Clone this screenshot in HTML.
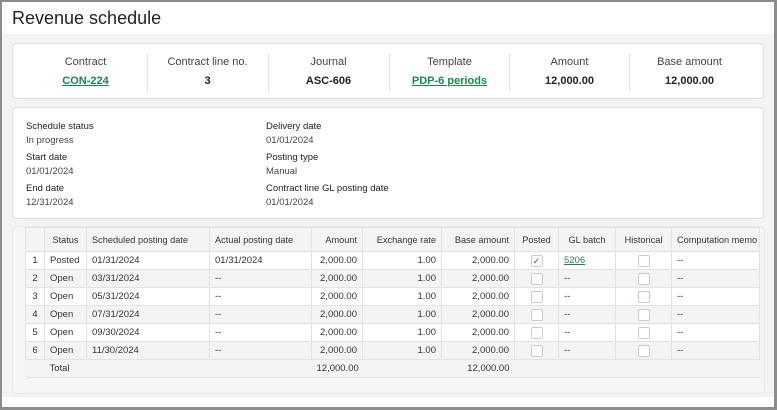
<!DOCTYPE html>
<html><head><style>
*{margin:0;padding:0;box-sizing:border-box}
body{width:777px;height:410px;overflow:hidden;font-family:"Liberation Sans",Arial,sans-serif;background:#8c8c8c;position:relative;color:#222}
#frame{position:absolute;left:2px;top:2px;width:772px;height:405px;background:#f1f3f4;overflow:hidden}
#hdr{position:absolute;left:0;top:0;width:772px;height:32px;background:#fff}
#hdr h1{position:absolute;left:10px;top:6px;font-size:18px;font-weight:normal;color:#222}
.card{position:absolute;background:#fff;border:1px solid #dde1e3;border-radius:5px}
.c1col{position:absolute;top:0;width:121px;text-align:center}
.c1col .l{font-size:11px;color:#444;margin-top:12px}
.c1col .v{font-size:11px;font-weight:bold;margin-top:7px;color:#222}
.c1col .v.a{color:#1a8a4a;text-decoration:underline}
.sep{position:absolute;top:10px;width:1px;height:37px;background:#dde1e3}
.f{position:absolute;font-size:9.5px}
.f.b{color:#222}
.f.g{color:#444}
#tbl{position:absolute;left:10px;top:224px;width:753px;height:168px;background:#f4f5f6;border-radius:5px;border:1px solid #e6e9eb}
table{position:absolute;left:12px;top:0;width:734px;border-collapse:collapse;font-size:9.5px;table-layout:fixed}
td,th{height:18px;border:1px solid #dfe3e5;padding:0 5px;white-space:nowrap;overflow:hidden;color:#333;font-weight:normal}
th{height:24px;background:#f2f4f5;font-size:9.2px}
tr:nth-child(even) td{background:#fff}
tr:nth-child(odd) td{background:#f2f4f5}
tr.tot td{background:#f2f4f5;border-left:none;border-right:none}
.r{text-align:right}.c{text-align:center}
.cb{display:inline-block;width:12px;height:12px;border:1px solid #c9cdd0;border-radius:2px;background:#fff;vertical-align:middle;font-size:9px;line-height:10px;text-align:center;color:#555}
a{color:#1a8a4a;text-decoration:underline}
</style></head><body>
<div id="frame">
<div id="hdr"><h1>Revenue schedule</h1></div>
<div class="card" style="left:10px;top:41px;width:752px;height:56px">
<div class="c1col" style="left:12px"><div class="l">Contract</div><div class="v a">CON-224</div></div>
<div class="sep" style="left:134px"></div>
<div class="c1col" style="left:134px"><div class="l">Contract line no.</div><div class="v">3</div></div>
<div class="sep" style="left:255px"></div>
<div class="c1col" style="left:255px"><div class="l">Journal</div><div class="v">ASC-606</div></div>
<div class="sep" style="left:376px"></div>
<div class="c1col" style="left:376px"><div class="l">Template</div><div class="v a">PDP-6 periods</div></div>
<div class="sep" style="left:496px"></div>
<div class="c1col" style="left:496px"><div class="l">Amount</div><div class="v">12,000.00</div></div>
<div class="sep" style="left:616px"></div>
<div class="c1col" style="left:616px"><div class="l">Base amount</div><div class="v">12,000.00</div></div>
</div>
<div class="card" style="left:10px;top:105px;width:752px;height:112px">
<div class="f b" style="left:13px;top:13px">Schedule status</div>
<div class="f g" style="left:13px;top:27px">In progress</div>
<div class="f b" style="left:13px;top:44px">Start date</div>
<div class="f g" style="left:13px;top:58px">01/01/2024</div>
<div class="f b" style="left:13px;top:75px">End date</div>
<div class="f g" style="left:13px;top:89px">12/31/2024</div>
<div class="f b" style="left:253px;top:13px">Delivery date</div>
<div class="f g" style="left:253px;top:27px">01/01/2024</div>
<div class="f b" style="left:253px;top:44px">Posting type</div>
<div class="f g" style="left:253px;top:58px">Manual</div>
<div class="f b" style="left:253px;top:75px">Contract line GL posting date</div>
<div class="f g" style="left:253px;top:89px">01/01/2024</div>
</div>
<div id="tbl">
<table>
<colgroup><col style="width:19px"><col style="width:42px"><col style="width:123px"><col style="width:102px"><col style="width:51px"><col style="width:79px"><col style="width:73px"><col style="width:44px"><col style="width:57px"><col style="width:56px"><col style="width:88px"></colgroup>
<tr><th></th><th>Status</th><th style="text-align:left">Scheduled posting date</th><th style="text-align:left">Actual posting date</th><th class="r">Amount</th><th class="r">Exchange rate</th><th class="r">Base amount</th><th class="c">Posted</th><th class="c">GL batch</th><th class="c">Historical</th><th style="text-align:left">Computation memo</th></tr>
<tr><td class="c">1</td><td>Posted</td><td>01/31/2024</td><td>01/31/2024</td><td class="r">2,000.00</td><td class="r">1.00</td><td class="r">2,000.00</td><td class="c"><span class="cb">✓</span></td><td><a>5206</a></td><td class="c"><span class="cb"></span></td><td>--</td></tr>
<tr><td class="c">2</td><td>Open</td><td>03/31/2024</td><td>--</td><td class="r">2,000.00</td><td class="r">1.00</td><td class="r">2,000.00</td><td class="c"><span class="cb"></span></td><td>--</td><td class="c"><span class="cb"></span></td><td>--</td></tr>
<tr><td class="c">3</td><td>Open</td><td>05/31/2024</td><td>--</td><td class="r">2,000.00</td><td class="r">1.00</td><td class="r">2,000.00</td><td class="c"><span class="cb"></span></td><td>--</td><td class="c"><span class="cb"></span></td><td>--</td></tr>
<tr><td class="c">4</td><td>Open</td><td>07/31/2024</td><td>--</td><td class="r">2,000.00</td><td class="r">1.00</td><td class="r">2,000.00</td><td class="c"><span class="cb"></span></td><td>--</td><td class="c"><span class="cb"></span></td><td>--</td></tr>
<tr><td class="c">5</td><td>Open</td><td>09/30/2024</td><td>--</td><td class="r">2,000.00</td><td class="r">1.00</td><td class="r">2,000.00</td><td class="c"><span class="cb"></span></td><td>--</td><td class="c"><span class="cb"></span></td><td>--</td></tr>
<tr><td class="c">6</td><td>Open</td><td>11/30/2024</td><td>--</td><td class="r">2,000.00</td><td class="r">1.00</td><td class="r">2,000.00</td><td class="c"><span class="cb"></span></td><td>--</td><td class="c"><span class="cb"></span></td><td>--</td></tr>
<tr class="tot"><td></td><td colspan="3">Total</td><td class="r">12,000.00</td><td></td><td class="r">12,000.00</td><td></td><td></td><td></td><td></td></tr>
</table>
</div>
<div style="position:absolute;left:0;top:395px;width:772px;height:10px;background:#fff"></div>
</div>
</body></html>
